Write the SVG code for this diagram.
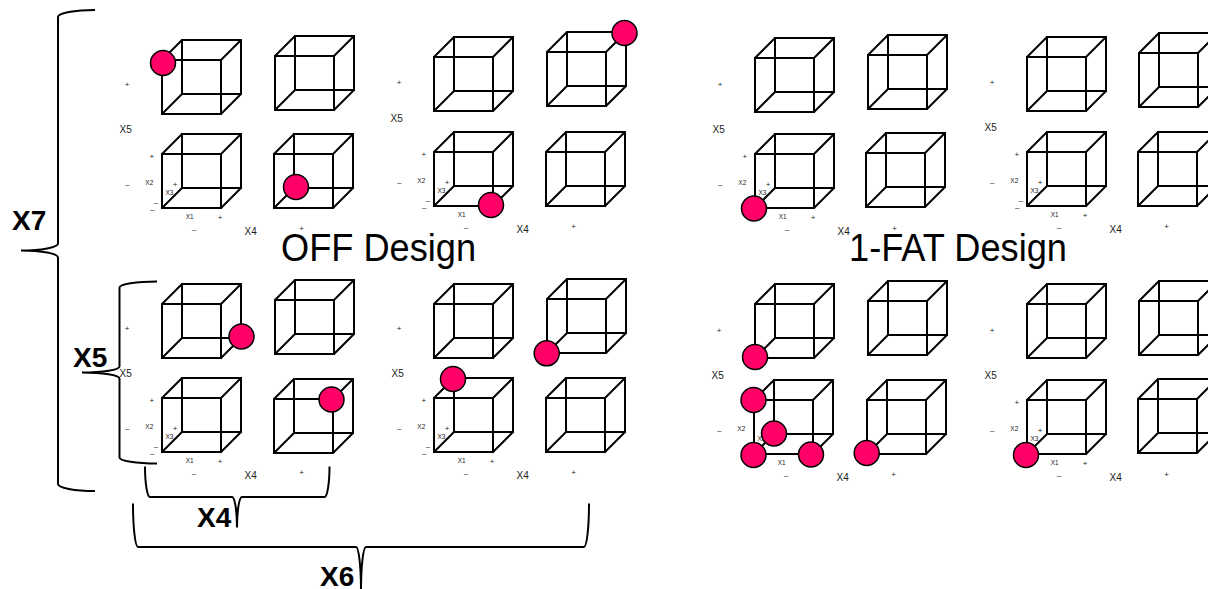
<svg xmlns="http://www.w3.org/2000/svg" xmlns:xlink="http://www.w3.org/1999/xlink" width="1208" height="589" viewBox="0 0 1208 589">
<style>
.cube{fill:none;stroke:#000;stroke-width:2}
.dot{fill:#FF0066;stroke:#000;stroke-width:1.5}
.brace{fill:none;stroke:#000;stroke-width:2}
text{font-family:"Liberation Sans",Arial,sans-serif;fill:#222}
.s{font-size:8px;text-anchor:middle}
.m{font-size:10px;text-anchor:middle}
.t{font-size:6.5px;text-anchor:middle}
.big{font-size:28px;font-weight:bold;fill:#000}
.title{font-size:39px;fill:#000}
</style>
<defs>
<g id="cube" class="cube">
<rect x="0" y="0" width="59" height="54"/>
<rect x="20" y="-20" width="59" height="54"/>
<path d="M0,0 L20,-20 M59,0 L79,-20 M0,54 L20,34 M59,54 L79,34"/>
</g>
</defs>
<rect width="1208" height="589" fill="#fff"/>

<g id="panel-a">
<g transform="translate(162,154)">
<text class="s" x="-35" y="-66.8">+</text><text class="m" x="-36.3" y="-20.8">X5</text><text class="s" x="-10.3" y="5.2">+</text><text class="s" x="-34.8" y="32.9">–</text><text class="t" x="-12.7" y="30.6">X2</text><text class="t" x="7.5" y="41.1">X3</text><text class="s" x="13" y="33.4">+</text><text class="s" x="-6" y="51.1">–</text><text class="s" x="-9.7" y="58.4">–</text><text class="t" x="27.7" y="65.1">X1</text><text class="s" x="58" y="66">+</text><text class="s" x="32" y="77.6">–</text><text class="m" x="88.7" y="80.7">X4</text><text class="s" x="139.7" y="77.4">+</text>
</g>
<use href="#cube" x="162" y="60"/><use href="#cube" x="275" y="56"/><use href="#cube" x="162" y="154"/><use href="#cube" x="274" y="154"/>
<circle class="dot" cx="163" cy="63" r="12.5"/><circle class="dot" cx="296" cy="187" r="12.5"/>
</g>

<g id="panel-b">
<g transform="translate(434,152)">
<text class="s" x="-35" y="-66.8">+</text><text class="m" x="-37.3" y="-30.2">X5</text><text class="s" x="-10.3" y="5.2">+</text><text class="s" x="-34.8" y="32.9">–</text><text class="t" x="-12.7" y="30.6">X2</text><text class="t" x="7.5" y="41.1">X3</text><text class="s" x="13" y="33.4">+</text><text class="s" x="-6" y="51.1">–</text><text class="s" x="-9.7" y="58.4">–</text><text class="t" x="27.7" y="65.1">X1</text><text class="s" x="58" y="66">+</text><text class="s" x="32" y="77.6">–</text><text class="m" x="88.7" y="80.7">X4</text><text class="s" x="139.7" y="77.4">+</text>
</g>
<use href="#cube" x="434" y="57"/><use href="#cube" x="547" y="52"/><use href="#cube" x="434" y="152"/><use href="#cube" x="546" y="152"/>
<circle class="dot" cx="624.5" cy="33" r="12.5"/><circle class="dot" cx="491" cy="205" r="12.5"/>
</g>

<g id="panel-c">
<g transform="translate(162,398)">
<text class="s" x="-35" y="-66.8">+</text><text class="m" x="-36.3" y="-20.8">X5</text><text class="s" x="-10.3" y="5.2">+</text><text class="s" x="-34.8" y="32.9">–</text><text class="t" x="-12.7" y="30.6">X2</text><text class="t" x="7.5" y="41.1">X3</text><text class="s" x="13" y="33.4">+</text><text class="s" x="-6" y="51.1">–</text><text class="s" x="-9.7" y="58.4">–</text><text class="t" x="27.7" y="65.1">X1</text><text class="s" x="58" y="66">+</text><text class="s" x="32" y="77.6">–</text><text class="m" x="88.7" y="80.7">X4</text><text class="s" x="139.7" y="77.4">+</text>
</g>
<use href="#cube" x="162" y="304"/><use href="#cube" x="275" y="300"/><use href="#cube" x="162" y="398"/><use href="#cube" x="274" y="399"/>
<circle class="dot" cx="241.5" cy="336.5" r="12.5"/><circle class="dot" cx="331.5" cy="399.5" r="12.5"/>
</g>

<g id="panel-d">
<g transform="translate(434,398)">
<text class="s" x="-35" y="-66.8">+</text><text class="m" x="-36.3" y="-20.8">X5</text><text class="s" x="-10.3" y="5.2">+</text><text class="s" x="-34.8" y="32.9">–</text><text class="t" x="-12.7" y="30.6">X2</text><text class="t" x="7.5" y="41.1">X3</text><text class="s" x="13" y="33.4">+</text><text class="s" x="-6" y="51.1">–</text><text class="s" x="-9.7" y="58.4">–</text><text class="t" x="27.7" y="65.1">X1</text><text class="s" x="58" y="66">+</text><text class="s" x="32" y="77.6">–</text><text class="m" x="88.7" y="80.7">X4</text><text class="s" x="139.7" y="77.4">+</text>
</g>
<use href="#cube" x="434" y="304"/><use href="#cube" x="547" y="299"/><use href="#cube" x="434" y="398"/><use href="#cube" x="546" y="398"/>
<circle class="dot" cx="546.7" cy="353.3" r="12.5"/><circle class="dot" cx="453" cy="379" r="12.5"/>
</g>

<g id="panel-e">
<g transform="translate(755,154)">
<text class="s" x="-35" y="-66.8">+</text><text class="m" x="-36.3" y="-20.8">X5</text><text class="s" x="-10.3" y="5.2">+</text><text class="s" x="-34.8" y="32.9">–</text><text class="t" x="-12.7" y="30.6">X2</text><text class="t" x="7.5" y="41.1">X3</text><text class="s" x="13" y="33.4">+</text><text class="s" x="-6" y="51.1">–</text><text class="s" x="-9.7" y="58.4">–</text><text class="t" x="27.7" y="65.1">X1</text><text class="s" x="58" y="66">+</text><text class="s" x="32" y="77.6">–</text><text class="m" x="88.7" y="80.7">X4</text><text class="s" x="139.7" y="77.4">+</text>
</g>
<use href="#cube" x="755" y="58"/><use href="#cube" x="868" y="55"/><use href="#cube" x="755" y="154"/><use href="#cube" x="866" y="153"/>
<circle class="dot" cx="754" cy="208.5" r="12.5"/>
</g>

<g id="panel-f">
<g transform="translate(1027,152)">
<text class="s" x="-35" y="-66.8">+</text><text class="m" x="-36.3" y="-20.8">X5</text><text class="s" x="-10.3" y="5.2">+</text><text class="s" x="-34.8" y="32.9">–</text><text class="t" x="-12.7" y="30.6">X2</text><text class="t" x="7.5" y="41.1">X3</text><text class="s" x="13" y="33.4">+</text><text class="s" x="-6" y="51.1">–</text><text class="s" x="-9.7" y="58.4">–</text><text class="t" x="27.7" y="65.1">X1</text><text class="s" x="58" y="66">+</text><text class="s" x="32" y="77.6">–</text><text class="m" x="88.7" y="80.7">X4</text><text class="s" x="139.7" y="77.4">+</text>
</g>
<use href="#cube" x="1027" y="57"/><use href="#cube" x="1139" y="53"/><use href="#cube" x="1027" y="152"/><use href="#cube" x="1138" y="152"/>
</g>

<g id="panel-g">
<g transform="translate(754,400)">
<text class="s" x="-35" y="-66.8">+</text><text class="m" x="-36.3" y="-20.8">X5</text><text class="s" x="-10.3" y="5.2">+</text><text class="s" x="-34.8" y="32.9">–</text><text class="t" x="-12.7" y="30.6">X2</text><text class="t" x="7.5" y="41.1">X3</text><text class="s" x="13" y="33.4">+</text><text class="s" x="-6" y="51.1">–</text><text class="s" x="-9.7" y="58.4">–</text><text class="t" x="27.7" y="65.1">X1</text><text class="s" x="58" y="66">+</text><text class="s" x="32" y="77.6">–</text><text class="m" x="88.7" y="80.7">X4</text><text class="s" x="139.7" y="77.4">+</text>
</g>
<use href="#cube" x="755" y="304"/><use href="#cube" x="868" y="301"/><use href="#cube" x="754" y="400"/><use href="#cube" x="867" y="400"/>
<circle class="dot" cx="755" cy="357" r="12.5"/><circle class="dot" cx="753.5" cy="400" r="12.5"/><circle class="dot" cx="753.5" cy="455" r="12.5"/><circle class="dot" cx="774" cy="433.5" r="12.5"/><circle class="dot" cx="811" cy="454.5" r="12.5"/><circle class="dot" cx="866.7" cy="453" r="12.5"/>
</g>

<g id="panel-h">
<g transform="translate(1027,400)">
<text class="s" x="-35" y="-66.8">+</text><text class="m" x="-36.3" y="-20.8">X5</text><text class="s" x="-10.3" y="5.2">+</text><text class="s" x="-34.8" y="32.9">–</text><text class="t" x="-12.7" y="30.6">X2</text><text class="t" x="7.5" y="41.1">X3</text><text class="s" x="13" y="33.4">+</text><text class="s" x="-6" y="51.1">–</text><text class="s" x="-9.7" y="58.4">–</text><text class="t" x="27.7" y="65.1">X1</text><text class="s" x="58" y="66">+</text><text class="s" x="32" y="77.6">–</text><text class="m" x="88.7" y="80.7">X4</text><text class="s" x="139.7" y="77.4">+</text>
</g>
<use href="#cube" x="1027" y="304"/><use href="#cube" x="1139" y="301"/><use href="#cube" x="1027" y="400"/><use href="#cube" x="1138" y="399"/>
<circle class="dot" cx="1026" cy="455" r="12.5"/>
</g>

<g id="titles">
<text class="title" x="281" y="261" textLength="195" lengthAdjust="spacingAndGlyphs">OFF Design</text>
<text class="title" x="849" y="261" textLength="218" lengthAdjust="spacingAndGlyphs">1-FAT Design</text>
</g>

<g id="braces">
<path class="brace" d="M95,10 A37,7 0 0 0 58,17 L58,243.5 A37,7 0 0 1 21,250.5 A37,7 0 0 1 58,257.5 L58,484 A37,7 0 0 0 95,491"/>
<path class="brace" d="M157,281.5 A37.5,6 0 0 0 119.5,287.5 L119.5,366.5 A37.5,6 0 0 1 82,372.5 A37.5,6 0 0 1 119.5,378.5 L119.5,457.5 A37.5,6 0 0 0 157,463.5"/>
<path class="brace" d="M145,466.5 A5,30.5 0 0 0 150,497 L232,497 A5,30.5 0 0 1 237,527.5 A5,30.5 0 0 1 242,497 L324.5,497 A5,30.5 0 0 0 329.5,466.5"/>
<path class="brace" d="M133,503.5 A5,43.5 0 0 0 138,547 L356,547 A5,43.5 0 0 1 361,590.5 A5,43.5 0 0 1 366,547 L584,547 A5,43.5 0 0 0 589,503.5"/>
<text class="big" x="12" y="230">X7</text>
<text class="big" x="73" y="367">X5</text>
<text class="big" x="197" y="527">X4</text>
<text class="big" x="320" y="586">X6</text>
</g>
</svg>
